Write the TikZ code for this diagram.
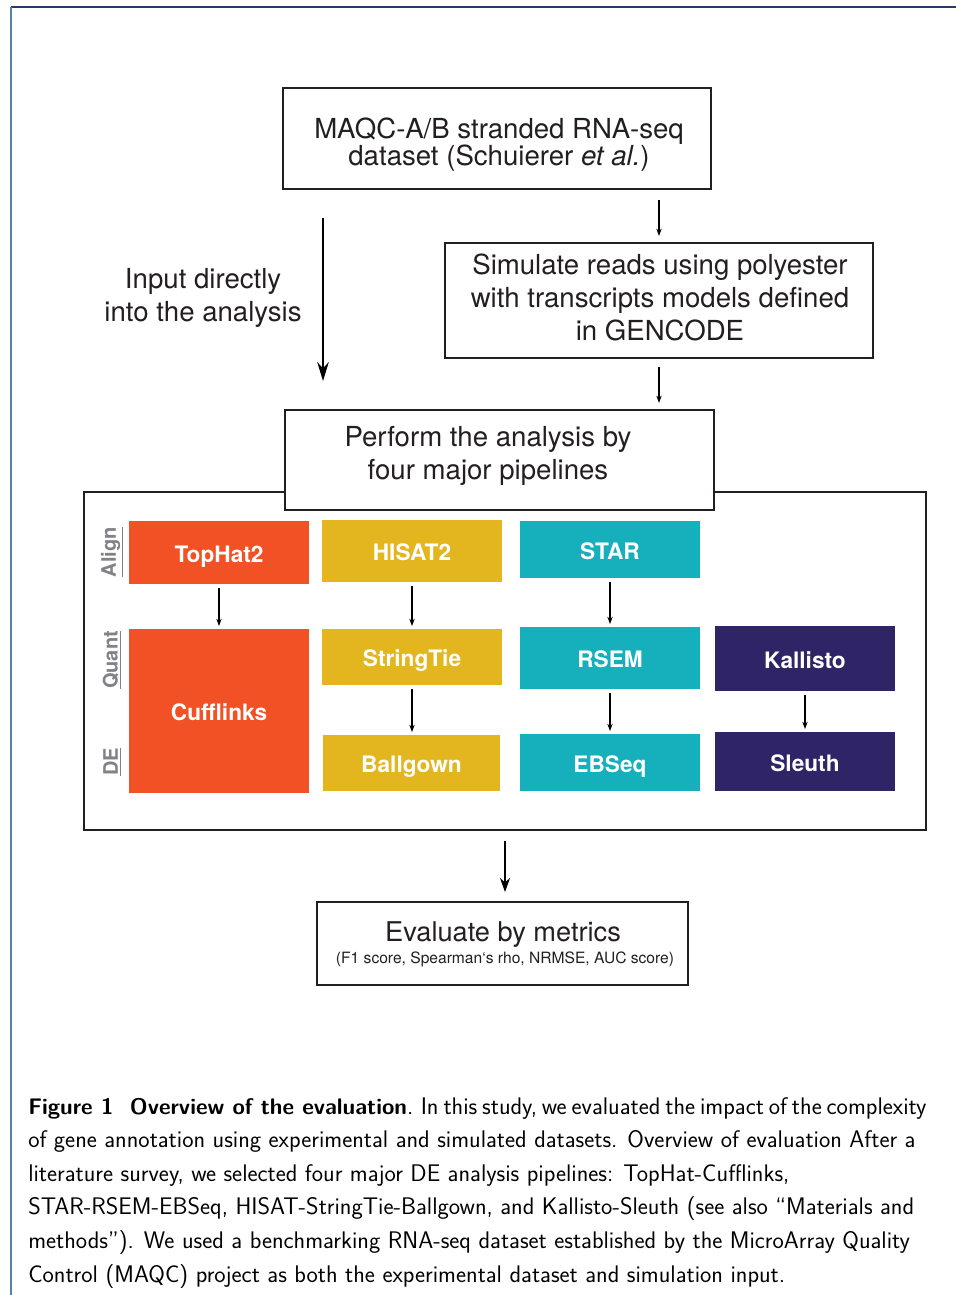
\documentclass[tikz,border=0pt]{standalone}
\usepackage{fontspec}
\newfontfamily\hv{TeX Gyre Heros}
\usetikzlibrary{arrows.meta}
\definecolor{frameblue}{HTML}{1F3F66}
\definecolor{frameleft}{HTML}{5A7FAE}
\definecolor{ink}{HTML}{231F20}
\definecolor{tophatcol}{HTML}{F15125}
\definecolor{hisatcol}{HTML}{E3B620}
\definecolor{starcol}{HTML}{16B0BD}
\definecolor{kallistocol}{HTML}{2E2466}
\definecolor{rowgray}{HTML}{808285}

\begin{document}
\begin{tikzpicture}[x=0.75pt,y=-0.75pt,line join=miter,every node/.style={inner sep=0pt},
  box/.style={draw=ink,line width=1.5pt,fill=white},
  bigtext/.style={text=ink,align=center,font=\hv\fontsize{20.7}{24.6}\selectfont},
  tool/.style={minimum width=135pt,text=white,text height=15.4pt,text depth=1pt,font=\hv\bfseries\fontsize{17}{20}\selectfont},
  rowlabel/.style={rotate=90,text=rowgray,font=\hv\bfseries\fontsize{15}{18}\selectfont},
  thinarrow/.style={-{Stealth[length=5.5pt,width=4pt]},line width=0.9pt,draw=black},
  fatarrow/.style={-{Stealth[length=14pt,width=8.5pt]},line width=2.2pt,draw=black}]
  \useasboundingbox (0,0) rectangle (956,1295);
  % page frame
  \draw[frameblue,line width=1.1pt] (11,7) -- (956,7);
  \draw[frameleft,line width=1.1pt] (11,7) -- (11,1295);

  % input and simulation
  \node[box,minimum width=321pt,minimum height=75.75pt] (maqc) at (497,138.5) {};
  \node[bigtext,font=\hv\fontsize{20.7}{20.25}\selectfont] (maqctxt) at (499,145)
    {MAQC-A/B stranded RNA-seq\\dataset (Schuierer \textit{et al.})};
  \node[box,minimum width=321pt,minimum height=86.25pt] (sim) at (659,300.5) {};
  \node[bigtext] (simtxt) at (660,297.5) {Simulate reads using polyester\\with transcripts models defined\\in GENCODE};
  \node[bigtext] (direct) at (203,298) {Input directly\\into the analysis};

  % pipelines panel
  \node[draw=ink,line width=1.5pt,minimum width=631.5pt,minimum height=253.5pt] (panel) at (505,661) {};
  \node[box,minimum width=321.75pt,minimum height=75pt] (perform) at (499.5,460) {};
  \node[bigtext] (performtxt) at (488,456) {Perform the analysis by\\four major pipelines};

  \node[rowlabel] (alignlab) at (112,552) {\underline{Align}};
  \node[rowlabel] (quantlab) at (112,660) {\underline{Quant}};
  \node[rowlabel] (delab) at (112,762) {\underline{DE}};

  \node[tool,fill=tophatcol,minimum height=47.25pt] (tophat) at (219,552.5) {TopHat2};
  \node[tool,fill=tophatcol,minimum height=123pt] (cuff) at (219,711) {Cufflinks};
  \node[tool,fill=hisatcol,minimum height=46.5pt] (hisat) at (412,551) {HISAT2};
  \node[tool,fill=hisatcol,minimum height=42pt] (stringtie) at (412,657) {StringTie};
  \node[tool,fill=hisatcol,minimum height=42pt,minimum width=133pt] (ballgown) at (411.5,763) {Ballgown};
  \node[tool,fill=starcol,minimum height=42.75pt] (star) at (610,549.5) {STAR};
  \node[tool,fill=starcol,minimum height=46.5pt] (rsem) at (610,658) {RSEM};
  \node[tool,fill=starcol,minimum height=42.75pt] (ebseq) at (610,762.5) {EBSeq};
  \node[tool,fill=kallistocol,minimum height=48.75pt] (kallisto) at (805,658.5) {Kallisto};
  \node[tool,fill=kallistocol,minimum height=44.25pt] (sleuth) at (805,761.5) {Sleuth};

  % evaluation
  \node[box,minimum width=278.25pt,minimum height=62.25pt] (eval) at (502.5,943.5) {};
  \node[text=ink,font=\hv\fontsize{20.4}{24}\selectfont] (evaltitle) at (503,934.5) {Evaluate by metrics};
  \node[text=ink,font=\hv\fontsize{11.7}{14}\selectfont] (evalsub) at (505,959) {(F1 score, Spearman‘s rho, NRMSE, AUC score)};

  % connectors
  \coordinate (dirx) at (323,0);
  \coordinate (evalx) at (505,0);
  \draw[thinarrow,shorten <=7.5pt,shorten >=4.5pt] (maqc.south -| sim.north) -- (sim.north);
  \draw[thinarrow,shorten <=6pt,shorten >=4.5pt] (sim.south) -- (sim.south |- perform.north);
  \draw[fatarrow,shorten <=21pt,shorten >=21pt] (maqc.south -| dirx) -- (perform.north -| dirx);
  \foreach \a/\b in {tophat/cuff,hisat/stringtie,stringtie/ballgown,star/rsem,rsem/ebseq,kallisto/sleuth} {
    \draw[thinarrow,shorten <=3pt,shorten >=2pt] (\a.south) -- (\a.south |- \b.north);
  }
  \draw[-{Stealth[length=10.5pt,width=7.5pt]},line width=1.9pt,shorten <=7.5pt,shorten >=6.75pt] (panel.south -| evalx) -- (eval.north -| evalx);

  % caption
  \node[anchor=north west,align=left,text=black,font=\sffamily\fontsize{18}{25.2}\selectfont] (caption) at (28,1097)
    {{\fontsize{16.9}{25.2}\selectfont\bfseries Figure 1\ \ Overview of the evaluation}{\spaceskip=0.205em\relax. In this study, we evaluated the impact of the complexity}\\
     of gene annotation using experimental and simulated datasets. Overview of evaluation After a\\
     literature survey, we selected four major DE analysis pipelines: TopHat-Cufflinks,\\
     STAR-RSEM-EBSeq, HISAT-StringTie-Ballgown, and Kallisto-Sleuth (see also “Materials and\\
     methods”). We used a benchmarking RNA-seq dataset established by the MicroArray Quality\\
     Control (MAQC) project as both the experimental dataset and simulation input.};
\end{tikzpicture}
\end{document}
